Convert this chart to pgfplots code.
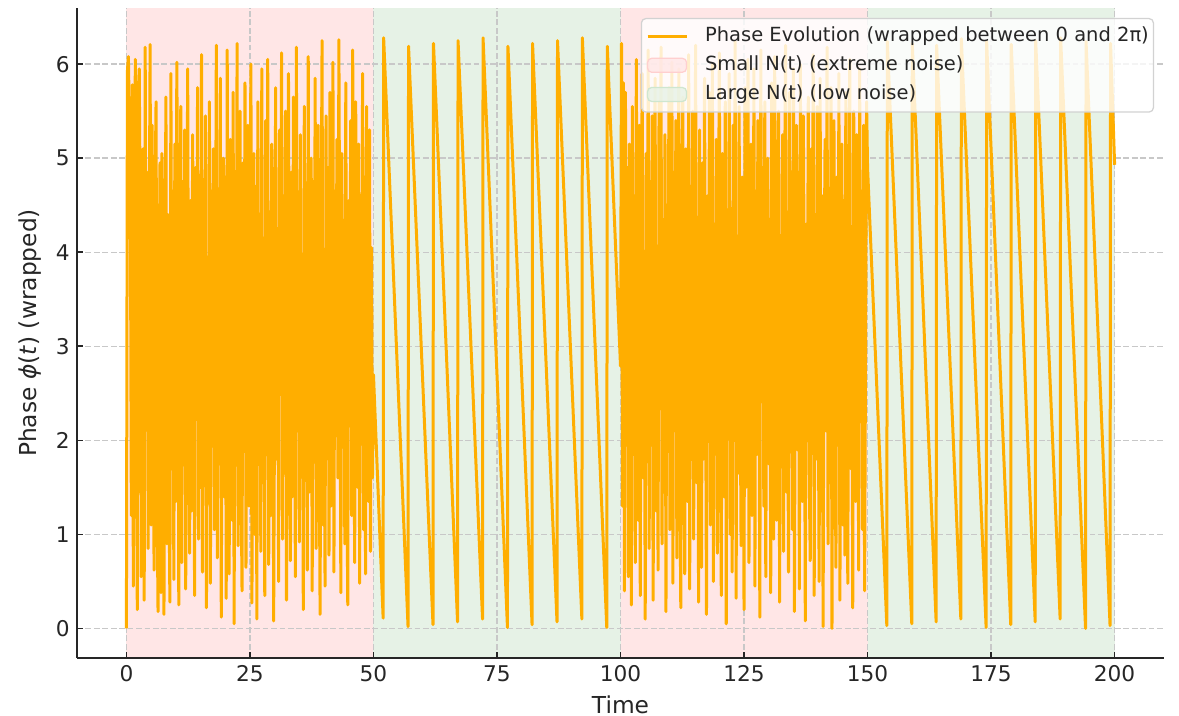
\documentclass[border=0pt]{standalone}
\usepackage{pgfplots}
\pgfplotsset{compat=1.18}
\usepackage{fontspec}
\setmainfont{DejaVu Sans}
\definecolor{phase}{RGB}{255,174,0}
\definecolor{spanred}{RGB}{255,230,230}
\definecolor{spangreen}{RGB}{230,242,230}
\definecolor{edgered}{RGB}{255,207,207}
\definecolor{edgegreen}{RGB}{207,230,207}
\definecolor{gridc}{RGB}{200,200,200}
\definecolor{legedge}{RGB}{210,210,210}
\definecolor{txt}{RGB}{38,38,38}
\begin{document}
\begin{tikzpicture}
\begin{axis}[
 set layers,
 scale only axis,
 width=521.76pt, height=312pt,
 xmin=-10, xmax=210, ymin=-0.314, ymax=6.597,
 axis lines*=left,
 axis line style={line width=0.8pt, color=txt},
 tick align=inside,
 major tick length=2.9pt,
 tick style={line width=0.8pt, color=txt},
 xtick={0,25,...,200},
 ytick={0,1,...,6},
 xmajorgrids, ymajorgrids,
 major grid style={gridc, line width=0.7pt, dash pattern=on 2.8pt off 1.25pt},
 /pgf/number format/assume math mode=true,
 ticklabel style={font=\fontsize{10.4}{12}\selectfont, text=txt},
 label style={font=\fontsize{11.2}{13}\selectfont, text=txt},
 xlabel={Time},
 ylabel={Phase \textit{ϕ}(\textit{t}) (wrapped)},
 xlabel style={at={(axis description cs:0.5,-0.057)}, anchor=north, inner sep=0pt},
 ylabel style={at={(axis description cs:-0.0328,0.5)}, anchor=south, inner sep=0pt},
 legend cell align=left,
 legend style={at={(0.9908,0.9846)}, anchor=north east, draw=legedge, line width=0.6pt,
   rounded corners=2pt, fill=white, fill opacity=0.8, draw opacity=1, text opacity=1,
   font=\fontsize{9.35}{11}\selectfont, text=txt, inner xsep=2.2pt, inner ysep=1.4pt,
   row sep=0pt, column sep=8.2pt,
   nodes={inner xsep=0pt, inner ysep=2.4pt, text height=7.1pt, text depth=2.1pt, anchor=west}},
]
\addplot[draw=none, fill=spanred, on layer=axis background, forget plot] coordinates {(0,-0.314)(50,-0.314)(50,6.597)(0,6.597)} -- cycle;
\addplot[draw=none, fill=spanred, on layer=axis background, forget plot] coordinates {(100,-0.314)(150,-0.314)(150,6.597)(100,6.597)} -- cycle;
\addplot[draw=none, fill=spangreen, on layer=axis background, forget plot] coordinates {(50,-0.314)(100,-0.314)(100,6.597)(50,6.597)} -- cycle;
\addplot[draw=none, fill=spangreen, on layer=axis background, forget plot] coordinates {(150,-0.314)(200,-0.314)(200,6.597)(150,6.597)} -- cycle;

\addplot[phase, line width=1.44pt, line join=round,
  legend image code/.code={\draw[phase, line width=1.44pt] (0pt,0pt) -- (18.7pt,0pt);}] coordinates {
(0,0.00)(0.2,5.92)(0.4,6.08)(0.6,5.40)(0.8,4.61)(1,1.20)(1.2,5.78)(1.4,0.45)(1.6,2.91)(1.8,6.05)
(2,3.60)(2.2,0.20)(2.4,5.70)(2.6,5.95)(2.8,4.30)(3,0.55)(3.2,1.85)(3.4,5.10)(3.6,0.30)(3.8,6.18)
(4,2.40)(4.2,4.85)(4.4,0.85)(4.6,3.95)(4.8,6.21)(5,1.10)(5.2,5.35)(5.4,2.75)(5.6,0.62)(5.8,4.60)
(6,5.60)(6.2,1.45)(6.4,0.18)(6.6,3.30)(6.8,4.95)(7,0.38)(7.2,5.05)(7.4,2.20)(7.6,0.15)(7.8,3.70)
(8,5.65)(8.2,0.90)(8.4,4.40)(8.6,1.60)(8.8,0.28)(9,5.90)(9.2,2.60)(9.4,3.85)(9.6,0.52)(9.8,5.15)
(10,1.35)(10.2,6.02)(10.4,4.10)(10.6,0.25)(10.8,2.95)(11,5.55)(11.2,0.70)(11.4,4.75)(11.6,1.95)(11.8,5.30)
(12,0.42)(12.2,3.45)(12.4,5.95)(12.6,2.05)(12.8,0.80)(13,4.55)(13.2,1.25)(13.4,5.25)(13.6,3.10)(13.8,0.35)
(14,4.90)(14.2,2.45)(14.4,5.75)(14.6,0.95)(14.8,3.65)(15,1.50)(15.2,6.10)(15.4,0.60)(15.6,4.20)(15.8,2.85)
(16,5.45)(16.2,0.22)(16.4,3.90)(16.6,1.75)(16.8,5.60)(17,0.48)(17.2,4.65)(17.4,2.15)(17.6,5.10)(17.8,1.05)
(18,3.25)(18.2,6.20)(18.4,0.75)(18.6,4.35)(18.8,1.90)(19,5.85)(19.2,0.12)(19.4,3.55)(19.6,5.00)(19.8,1.40)
(20,4.80)(20.2,0.32)(20.4,6.15)(20.6,2.70)(20.8,0.58)(21,5.20)(21.2,3.80)(21.4,1.15)(21.6,5.70)(21.8,0.05)
(22,4.45)(22.2,2.30)(22.4,6.22)(22.6,0.88)(22.8,3.40)(23,5.50)(23.2,1.70)(23.4,0.40)(23.6,4.95)(23.8,2.55)
(24,5.80)(24.2,0.65)(24.4,3.15)(24.6,5.35)(24.8,1.30)(25,4.25)(25.2,6.00)(25.4,0.27)(25.6,2.80)(25.8,5.05)
(26,1.00)(26.2,4.70)(26.4,0.10)(26.6,5.60)(26.8,2.50)(27,3.75)(27.2,0.82)(27.4,5.95)(27.6,1.55)(27.8,4.15)
(28,0.35)(28.2,5.40)(28.4,2.95)(28.6,6.05)(28.8,0.68)(29,3.60)(29.2,1.20)(29.4,5.15)(29.6,4.40)(29.8,0.08)
(30,2.65)(30.2,5.75)(30.4,1.80)(30.6,4.05)(30.8,0.50)(31,5.30)(31.2,3.20)(31.4,6.12)(31.6,0.95)(31.8,4.60)
(32,1.65)(32.2,5.50)(32.4,0.30)(32.6,3.85)(32.8,5.90)(33,2.35)(33.2,0.72)(33.4,4.85)(33.6,1.40)(33.8,5.65)
(34,3.00)(34.2,0.55)(34.4,6.18)(34.6,2.10)(34.8,4.50)(35,0.92)(35.2,5.25)(35.4,1.85)(35.6,3.70)(35.8,0.20)
(36,5.55)(36.2,2.75)(36.4,4.30)(36.6,0.62)(36.8,6.08)(37,1.45)(37.2,3.35)(37.4,5.00)(37.6,0.40)(37.8,4.75)
(38,1.95)(38.2,5.85)(38.4,0.85)(38.6,3.50)(38.8,5.35)(39,2.20)(39.2,0.15)(39.4,4.10)(39.6,6.25)(39.8,1.10)
(40,3.95)(40.2,0.45)(40.4,5.45)(40.6,2.60)(40.8,4.90)(41,0.78)(41.2,5.70)(41.4,1.30)(41.6,3.25)(41.8,6.02)
(42,0.60)(42.2,4.65)(42.4,2.05)(42.6,5.20)(42.8,1.60)(43,6.26)(43.2,3.45)(43.4,0.38)(43.6,5.05)(43.8,2.40)
(44,4.20)(44.2,0.90)(44.4,5.80)(44.6,1.75)(44.8,0.25)(45,4.55)(45.2,3.10)(45.4,5.40)(45.6,1.20)(45.8,6.15)
(46,2.85)(46.2,0.70)(46.4,5.60)(46.6,3.90)(46.8,1.50)(47,5.15)(47.2,0.48)(47.4,4.35)(47.6,2.25)(47.8,5.90)
(48,1.05)(48.2,4.80)(48.4,0.58)(48.6,5.55)(48.8,3.00)(49,1.35)(49.2,5.30)(49.4,0.82)(49.6,4.05)(49.8,1.60)
(50,2.70)
(51.96,0.11)(52.06,6.28)(57.00,0.02)(57.10,6.19)(62.05,0.04)(62.15,6.22)(67.02,0.07)(67.12,6.25)(72.08,0.10)(72.18,6.28)
(77.12,0.01)(77.22,6.19)(82.10,0.04)(82.20,6.22)(87.15,0.07)(87.25,6.25)(92.18,0.10)(92.28,6.28)(97.22,0.01)(97.32,6.19)
(100,2.79)(100.2,6.22)(100.4,1.30)(100.6,5.80)(100.8,0.40)(101,5.70)(101.2,2.10)(101.4,4.90)(101.6,0.55)(101.8,5.15)
(102,3.40)(102.2,0.25)(102.4,5.55)(102.6,1.85)(102.8,4.60)(103,0.70)(103.2,6.05)(103.4,2.95)(103.6,1.15)(103.8,5.35)
(104,0.35)(104.2,4.25)(104.4,5.90)(104.6,1.60)(104.8,3.70)(105,0.10)(105.2,5.05)(105.4,2.45)(105.6,6.15)(105.8,0.85)
(106,4.75)(106.2,1.95)(106.4,5.45)(106.6,0.30)(106.8,3.35)(107,5.85)(107.2,1.25)(107.4,4.05)(107.6,0.62)(107.8,5.60)
(108,2.60)(108.2,6.18)(108.4,0.90)(108.6,3.95)(108.8,1.45)(109,5.25)(109.2,0.18)(109.4,4.50)(109.6,2.80)(109.8,5.75)
(110,1.05)(110.2,3.60)(110.4,6.02)(110.6,0.48)(110.8,4.85)(111,2.25)(111.2,5.40)(111.4,0.75)(111.6,3.15)(111.8,5.95)
(112,1.70)(112.2,0.22)(112.4,4.40)(112.6,5.65)(112.8,2.05)(113,0.58)(113.2,5.10)(113.4,3.50)(113.6,1.35)(113.8,6.10)
(114,0.42)(114.2,4.70)(114.4,2.90)(114.6,5.50)(114.8,0.95)(115,3.80)(115.2,6.20)(115.4,1.55)(115.6,4.15)(115.8,0.28)
(116,5.30)(116.2,2.35)(116.4,0.65)(116.6,4.95)(116.8,1.80)(117,5.85)(117.2,3.05)(117.4,0.15)(117.6,4.60)(117.8,2.70)
(118,5.70)(118.2,1.10)(118.4,3.45)(118.6,6.00)(118.8,0.50)(119,4.30)(119.2,1.90)(119.4,5.20)(119.6,0.80)(119.8,3.75)
(120,6.12)(120.2,2.15)(120.4,0.35)(120.6,5.05)(120.8,3.30)(121,1.40)(121.2,5.60)(121.4,0.05)(121.6,4.45)(121.8,2.55)
(122,5.90)(122.2,1.00)(122.4,3.85)(122.6,0.60)(122.8,5.35)(123,2.00)(123.2,6.24)(123.4,0.32)(123.6,4.10)(123.8,1.65)
(124,5.55)(124.2,2.85)(124.4,0.88)(124.6,4.80)(124.8,3.20)(125,0.20)(125.2,5.75)(125.4,1.50)(125.6,4.25)(125.8,6.05)
(126,0.70)(126.2,3.55)(126.4,5.15)(126.6,1.20)(126.8,2.40)(127,5.95)(127.2,0.45)(127.4,4.65)(127.6,1.85)(127.8,5.40)
(128,3.00)(128.2,0.12)(128.4,6.15)(128.6,2.60)(128.8,4.90)(129,1.30)(129.2,5.60)(129.4,0.55)(129.6,3.65)(129.8,5.00)
(130,1.75)(130.2,4.35)(130.4,0.38)(130.6,5.80)(130.8,2.20)(131,0.95)(131.2,6.08)(131.4,3.40)(131.6,1.15)(131.8,4.70)
(132,5.50)(132.2,0.28)(132.4,3.90)(132.6,2.05)(132.8,5.25)(133,0.82)(133.2,4.55)(133.4,6.20)(133.6,1.45)(133.8,3.10)
(134,0.60)(134.2,5.70)(134.4,2.50)(134.6,4.15)(134.8,1.05)(135,5.95)(135.2,0.18)(135.4,3.75)(135.6,5.35)(135.8,1.90)
(136,4.85)(136.2,0.42)(136.4,6.00)(136.6,2.75)(136.8,1.35)(137,5.45)(137.2,3.50)(137.4,0.08)(137.6,4.30)(137.8,2.30)
(138,5.65)(138.2,1.60)(138.4,0.72)(138.6,5.10)(138.8,3.25)(139,6.10)(139.2,0.35)(139.4,4.00)(139.6,1.80)(139.8,5.55)
(140,2.95)(140.2,0.50)(140.4,5.85)(140.6,1.25)(140.8,4.60)(141,0.02)(141.2,3.60)(141.4,5.20)(141.6,2.10)(141.8,6.18)
(142,0.90)(142.2,4.40)(142.4,1.55)(142.6,5.75)(142.8,0.00)(143,3.95)(143.2,5.40)(143.4,2.40)(143.6,0.65)(143.8,4.80)
(144,1.95)(144.2,5.90)(144.4,0.30)(144.6,3.30)(144.8,5.15)(145,1.10)(145.2,4.55)(145.4,0.78)(145.6,5.70)(145.8,2.65)
(146,0.48)(146.2,4.20)(146.4,6.05)(146.6,1.70)(146.8,3.85)(147,0.22)(147.2,5.50)(147.4,2.90)(147.6,1.35)(147.8,5.25)
(148,3.70)(148.2,0.62)(148.4,5.95)(148.6,2.20)(148.8,4.65)(149,1.05)(149.2,5.35)(149.4,0.40)(149.6,3.10)(149.8,5.60)
(150,4.90)
(153.90,0.03)(154.00,6.24)(158.95,0.05)(159.05,6.22)(163.88,0.07)(163.98,6.20)(168.88,0.10)(168.98,6.27)(174.00,0.01)(174.10,6.24)
(178.98,0.04)(179.08,6.21)(183.93,0.07)(184.03,6.25)(188.98,0.10)(189.08,6.28)(194.12,0.00)(194.22,6.24)(199.08,0.03)(199.18,6.22)
(200,4.93)
};
\addlegendentry{Phase Evolution (wrapped between 0 and 2π)}
\addlegendimage{legend image code/.code={\draw[fill=spanred, draw=edgered, line width=0.6pt] (0pt,-3.36pt) rectangle (18.7pt,3.36pt);}}
\addlegendentry{Small N(t) (extreme noise)}
\addlegendimage{legend image code/.code={\draw[fill=spangreen, draw=edgegreen, line width=0.6pt] (0pt,-3.36pt) rectangle (18.7pt,3.36pt);}}
\addlegendentry{Large N(t) (low noise)}
\end{axis}
\pgfresetboundingbox
\path (current axis.south west) ++(-36.96pt,-27.84pt);
\path (current axis.north east) ++(7.2pt,3.84pt);
\end{tikzpicture}
\end{document}
